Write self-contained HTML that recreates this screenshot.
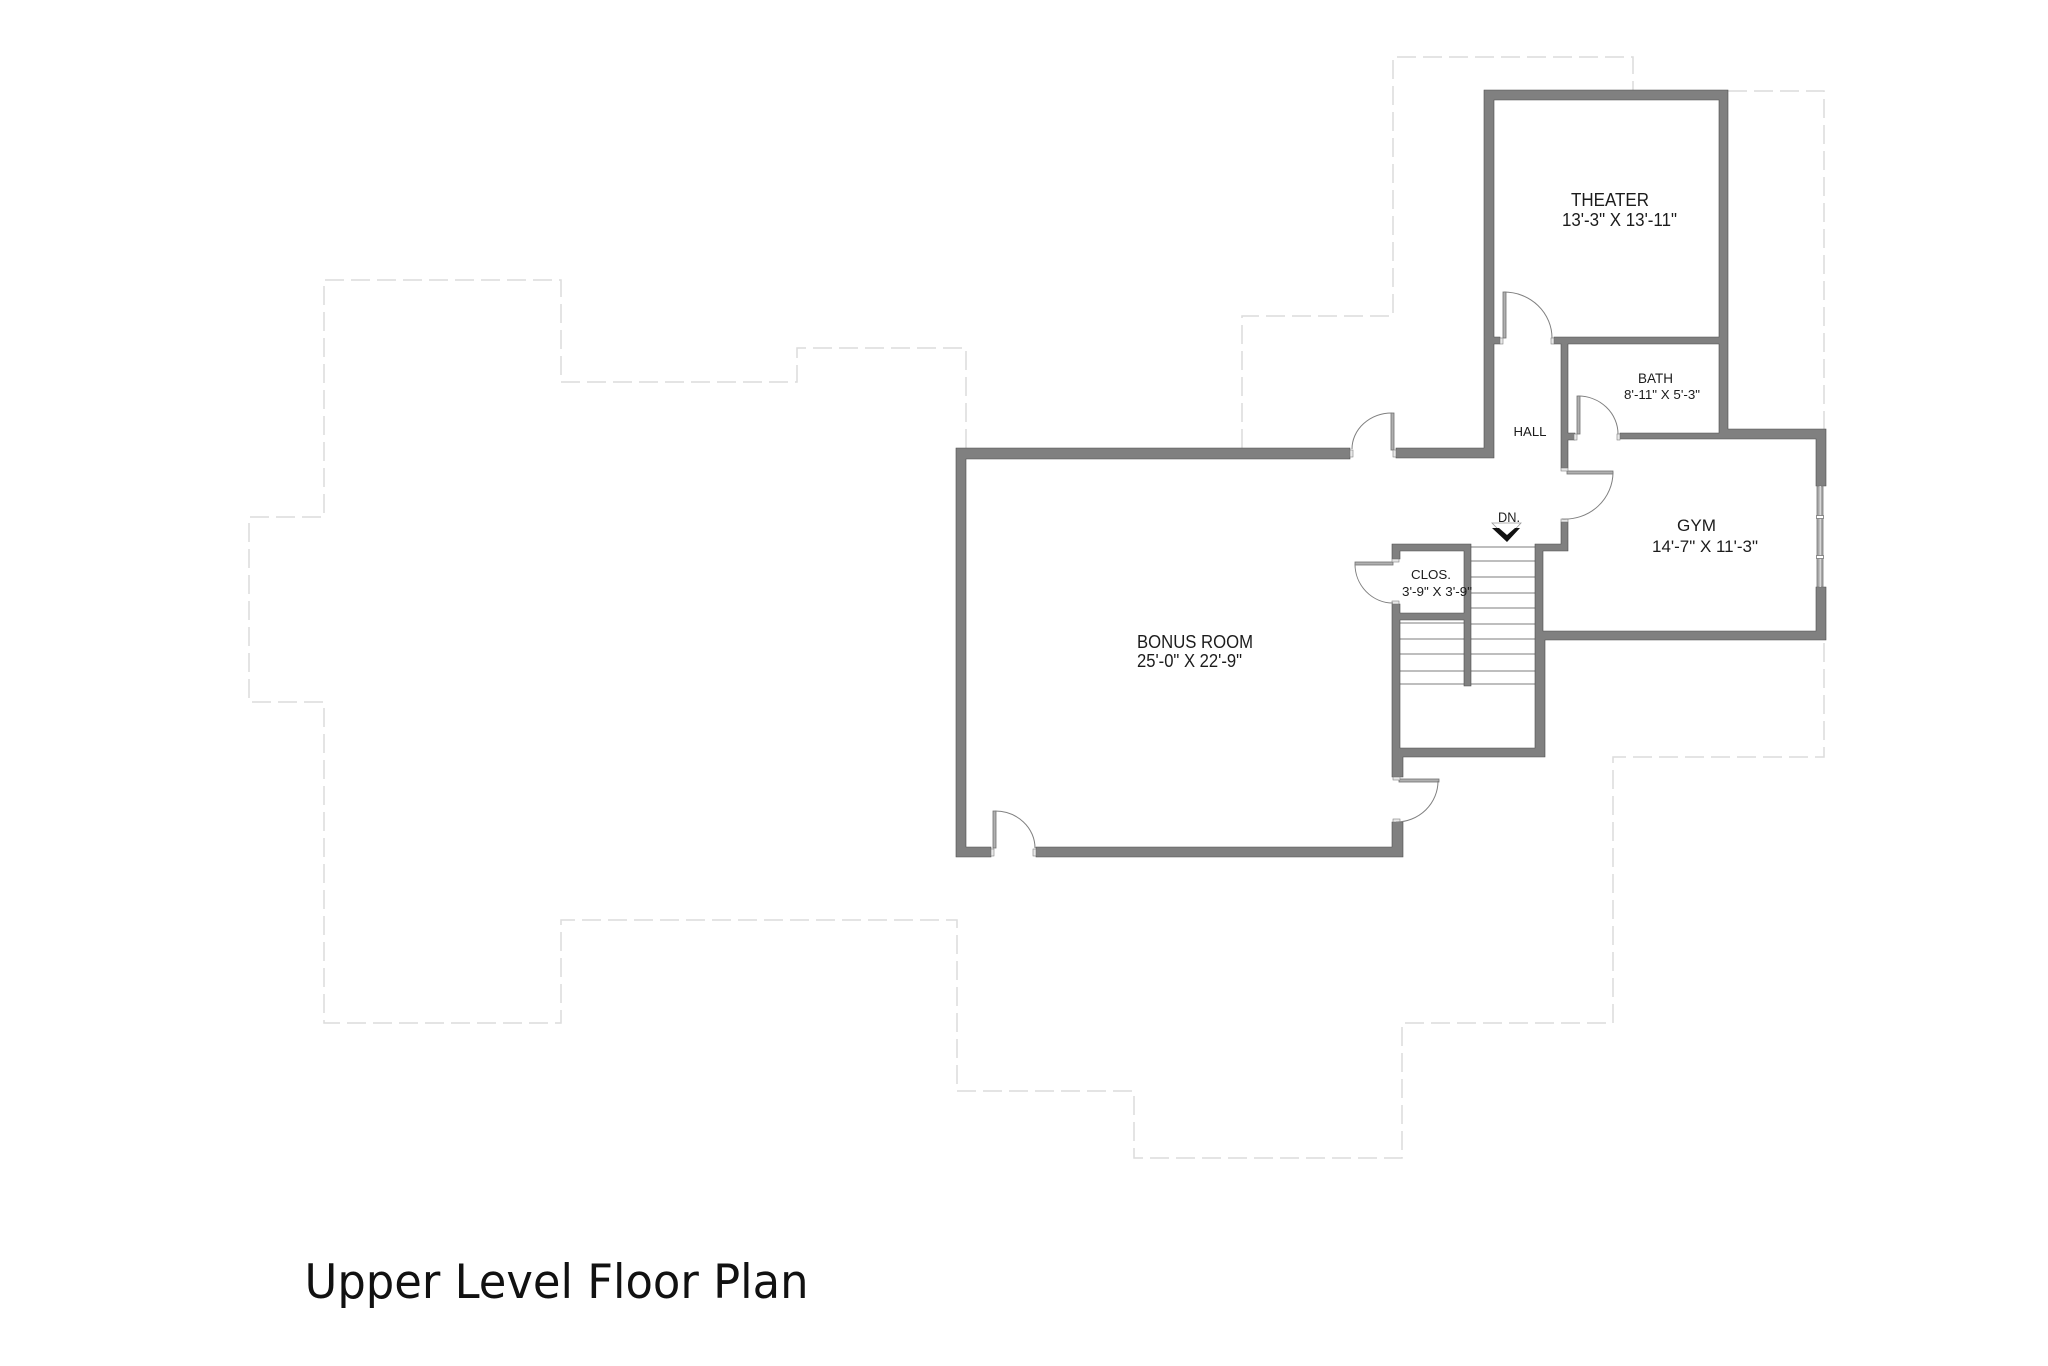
<!DOCTYPE html>
<html lang="en">
<head>
<meta charset="utf-8">
<title>Upper Level Floor Plan</title>
<style>
html,body{margin:0;padding:0;background:#fff;width:2048px;height:1366px;overflow:hidden}
svg{display:block}
text{font-family:"Liberation Sans",Arial,sans-serif;fill:#1c1c1c}
</style>
</head>
<body>
<svg width="2048" height="1366" viewBox="0 0 2048 1366" xmlns="http://www.w3.org/2000/svg">
<rect width="2048" height="1366" fill="#fff"/>

<!-- dashed outline of the level below -->
<g fill="none" stroke="#dcdcdc" stroke-width="1.5" stroke-dasharray="19 7">
<path d="M966 448V348H797V382H561V280H324V517H249V702H324V1023H561V920H957V1091H1134V1158H1402V1023H1613V757H1824V640"/>
<path d="M1242 448V316H1393V57H1633V90"/>
<path d="M1728 91H1824V429"/>
</g>

<!-- stair treads -->
<g stroke="#a8a8a8" stroke-width="1.500">
<path d="M1471 547H1535M1471 561H1535M1471 577H1535M1471 593H1535M1471 608H1535M1471 624H1535M1471 639H1535M1471 654H1535M1471 671H1535M1471 684H1535"/>
<path d="M1400 623H1464M1400 639H1464M1400 654H1464M1400 671H1464M1400 684H1464"/>
</g>

<!-- walls -->
<g fill="#808080" stroke="#4d4d4d" stroke-width="0.6">
<path d="M1396 448H1484V90H1728V429H1826V486H1816V439H1620V433H1719V344H1568V433H1575V440H1568V468H1561V344H1554V337H1719V100H1494V337H1500V344H1494V458H1396Z"/>
<path d="M1350 448H956V857H991V847H966V459H1350Z"/>
<path d="M1036 847H1392V822H1403V857H1036Z"/>
<path d="M1561 522H1568V551H1543V631H1816V587H1826V640H1545V757H1403V777H1392V604H1400V613H1464V551H1400V559H1392V544H1471V686H1464V620H1400V748H1535V544H1561Z"/>
</g>

<!-- door leaves -->
<g fill="#b0b0b0" stroke="#707070" stroke-width="0.8">
<rect x="1391" y="413" width="3" height="37"/>
<rect x="1503" y="292" width="3" height="46"/>
<rect x="1577" y="396" width="3" height="38"/>
<rect x="1567" y="471" width="46" height="3"/>
<rect x="1355" y="562" width="38" height="3"/>
<rect x="1399" y="779" width="40" height="3"/>
<rect x="993" y="811" width="3" height="37"/>
</g>

<!-- door jambs -->
<g fill="#e8e8e8" stroke="#808080" stroke-width="0.6">
<rect x="1350" y="450" width="3" height="7"/>
<rect x="1393" y="450" width="3" height="7"/>
<rect x="1500" y="338" width="3" height="6"/>
<rect x="1551" y="338" width="3" height="6"/>
<rect x="1574" y="434" width="3" height="6"/>
<rect x="1617" y="434" width="3" height="6"/>
<rect x="1561" y="468" width="7" height="3"/>
<rect x="1561" y="519" width="7" height="3"/>
<rect x="1392" y="559" width="7" height="3"/>
<rect x="1392" y="601" width="7" height="3"/>
<rect x="1393" y="777" width="7" height="3"/>
<rect x="1393" y="819" width="7" height="3"/>
<rect x="991" y="849" width="3" height="7"/>
<rect x="1033" y="849" width="3" height="7"/>
</g>

<!-- door swings -->
<g fill="none" stroke="#808080" stroke-width="1">
<path d="M1392 413A40 36 0 0 0 1352 449"/>
<path d="M1504 292A48 46 0 0 1 1552 338"/>
<path d="M1578 396A40 38 0 0 1 1618 434"/>
<path d="M1613 472A48 47 0 0 1 1562 519"/>
<path d="M1355 564A38 39 0 0 0 1393 603"/>
<path d="M1438 781A42 41 0 0 1 1396 822"/>
<path d="M995 811A40 37 0 0 1 1035 848"/>
</g>

<!-- window -->
<rect x="1817" y="486" width="6" height="101" fill="#a8a8a8" stroke="#777" stroke-width="0.8"/>
<rect x="1819.500" y="486" width="1.500" height="101" fill="#d8d8d8"/>
<g fill="#fff" stroke="#777" stroke-width="0.8">
<rect x="1816.500" y="515.500" width="7" height="3"/>
<rect x="1816.500" y="555.500" width="7" height="3"/>
</g>

<!-- DN arrow -->
<path d="M1492 523H1521L1507 538Z" fill="none" stroke="#999" stroke-width="0.8"/>
<polygon points="1492,528 1499,528 1507,535 1515,528 1520,528 1507,542" fill="#111"/>

<!-- labels -->
<text x="1571" y="206" font-size="18" textLength="78" lengthAdjust="spacingAndGlyphs">THEATER</text>
<text x="1562" y="226" font-size="18" textLength="115" lengthAdjust="spacingAndGlyphs">13'-3" X 13'-11"</text>
<text x="1638" y="383" font-size="13.500" textLength="35" lengthAdjust="spacingAndGlyphs">BATH</text>
<text x="1624" y="399" font-size="12.500" textLength="76" lengthAdjust="spacingAndGlyphs">8'-11" X 5'-3"</text>
<text x="1513.500" y="436" font-size="13" textLength="33" lengthAdjust="spacingAndGlyphs">HALL</text>
<text x="1677" y="531" font-size="17" textLength="39" lengthAdjust="spacingAndGlyphs">GYM</text>
<text x="1652" y="552" font-size="17" textLength="106" lengthAdjust="spacingAndGlyphs">14'-7" X 11'-3"</text>
<text x="1411" y="579" font-size="13" textLength="40" lengthAdjust="spacingAndGlyphs">CLOS.</text>
<text x="1402" y="596" font-size="13" textLength="70" lengthAdjust="spacingAndGlyphs">3'-9" X 3'-9"</text>
<text x="1137" y="648" font-size="18" textLength="116" lengthAdjust="spacingAndGlyphs">BONUS ROOM</text>
<text x="1137" y="667" font-size="18" textLength="105" lengthAdjust="spacingAndGlyphs">25'-0" X 22'-9"</text>
<text x="1498" y="522" font-size="13.500" textLength="22" lengthAdjust="spacingAndGlyphs">DN.</text>

<text x="304.500" y="1298" font-size="47" textLength="504" lengthAdjust="spacingAndGlyphs" style="font-family:'DejaVu Sans',sans-serif;fill:#111">Upper Level Floor Plan</text>
</svg>
</body>
</html>
